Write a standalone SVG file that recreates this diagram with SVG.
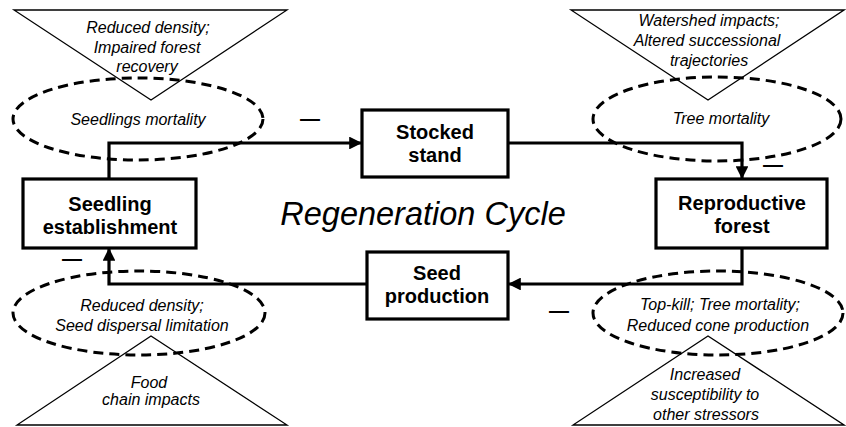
<svg xmlns="http://www.w3.org/2000/svg" width="846" height="427" viewBox="0 0 846 427">
<style>
.tri{fill:none;stroke:#000;stroke-width:1.3}
.ell{fill:none;stroke:#000;stroke-width:3;stroke-dasharray:10 6}
.box{fill:#fff;stroke:#000;stroke-width:3.2}
.conn{fill:none;stroke:#000;stroke-width:3.2}
.bt{font-family:"Liberation Sans",Arial,sans-serif;font-weight:bold;font-size:20px;text-anchor:middle;fill:#000}
.it{font-family:"Liberation Sans",Arial,sans-serif;font-style:italic;font-size:16px;text-anchor:middle;fill:#000}
.title{font-family:"Liberation Sans",Arial,sans-serif;font-style:italic;font-size:32.5px;text-anchor:middle;fill:#000}
.neg{font-family:"Liberation Sans",Arial,sans-serif;font-weight:bold;font-size:20px;text-anchor:middle;fill:#000}
</style>
<defs>
<marker id="arr" viewBox="0 0 10 10" refX="10" refY="5" markerWidth="4" markerHeight="4" orient="auto" markerUnits="strokeWidth">
<path d="M0,0 L10,5 L0,10 Z" fill="#000"/>
</marker>
</defs>
<rect width="846" height="427" fill="#fff"/>

<g id="impact-top-left">
<polygon class="tri" points="14,10 287,10 151,100"/>
<text class="it" x="148" y="33">Reduced density;</text>
<text class="it" x="147" y="53">Impaired forest</text>
<text class="it" x="147" y="72">recovery</text>
</g>
<g id="impact-top-right">
<polygon class="tri" points="571,10 844,10 708,100"/>
<text class="it" x="709" y="26">Watershed impacts;</text>
<text class="it" x="707" y="46">Altered successional</text>
<text class="it" x="709" y="66">trajectories</text>
</g>
<g id="impact-bottom-left">
<polygon class="tri" points="17,425 287,425 151,336"/>
<text class="it" x="149" y="388">Food</text>
<text class="it" x="151" y="405">chain impacts</text>
</g>
<g id="impact-bottom-right">
<polygon class="tri" points="573,425 844,425 708,336"/>
<text class="it" x="705" y="380">Increased</text>
<text class="it" x="705" y="400">susceptibility to</text>
<text class="it" x="706" y="420">other stressors</text>
</g>

<g id="stress-seedlings-mortality">
<ellipse class="ell" cx="138" cy="119" rx="125" ry="41"/>
<text class="it" x="138" y="125">Seedlings mortality</text>
</g>
<g id="stress-tree-mortality">
<ellipse class="ell" cx="717" cy="119" rx="124" ry="42"/>
<text class="it" x="721" y="124">Tree mortality</text>
</g>
<g id="stress-seed-dispersal">
<ellipse class="ell" cx="139" cy="313" rx="126" ry="42"/>
<text class="it" x="142" y="311">Reduced density;</text>
<text class="it" x="142" y="331">Seed dispersal limitation</text>
</g>
<g id="stress-topkill">
<ellipse class="ell" cx="718" cy="313" rx="125" ry="42"/>
<text class="it" x="720" y="310">Top-kill; Tree mortality;</text>
<text class="it" x="718" y="331">Reduced cone production</text>
</g>

<g id="connectors">
<polyline class="conn" points="109,179 109,143 362,143" marker-end="url(#arr)"/>
<polyline class="conn" points="508,143 742,143 742,179" marker-end="url(#arr)"/>
<polyline class="conn" points="742,248 742,284 508,284" marker-end="url(#arr)"/>
<polyline class="conn" points="367,284 109,284 109,248" marker-end="url(#arr)"/>
</g>

<g id="stocked-stand">
<rect class="box" x="362" y="110" width="146" height="67"/>
<text class="bt" x="435" y="139">Stocked</text>
<text class="bt" x="435" y="162">stand</text>
</g>
<g id="seedling-establishment">
<rect class="box" x="23" y="179" width="173" height="69"/>
<text class="bt" x="110" y="211">Seedling</text>
<text class="bt" x="110" y="234">establishment</text>
</g>
<g id="reproductive-forest">
<rect class="box" x="656" y="179" width="171" height="69"/>
<text class="bt" x="742" y="210">Reproductive</text>
<text class="bt" x="742" y="233">forest</text>
</g>
<g id="seed-production">
<rect class="box" x="367" y="252" width="141" height="67"/>
<text class="bt" x="437" y="280">Seed</text>
<text class="bt" x="437" y="303">production</text>
</g>

<g id="title">
<text class="title" x="423" y="225">Regeneration Cycle</text>
</g>

<g id="negative-signs">
<text class="neg" x="310" y="124.5">—</text>
<text class="neg" x="773" y="170.5">—</text>
<text class="neg" x="72" y="264.5">—</text>
<text class="neg" x="559" y="316.5">—</text>
</g>
</svg>
